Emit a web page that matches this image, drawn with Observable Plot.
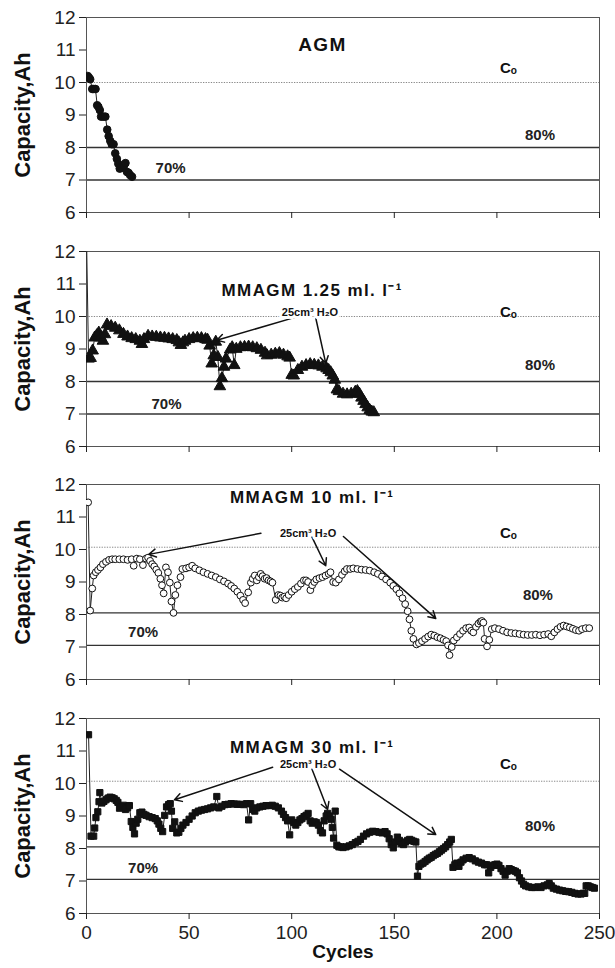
<!DOCTYPE html>
<html><head><meta charset="utf-8">
<script src="https://cdn.jsdelivr.net/npm/d3@7"></script>
<script src="https://cdn.jsdelivr.net/npm/@observablehq/plot@0.6"></script>
<style>
body{margin:0;background:#fff;font-family:"Liberation Sans",Arial,sans-serif;}
#chart{width:615px;}
#chart svg{display:block;overflow:visible;}
</style></head><body><div id="chart"></div>
<script>
// ---- data: [cycle, capacity Ah] ----
const agm = [[0.6,10.2],[1.2,10.15],[1.8,10.1],[2.8,9.8],[3.6,9.8],[4.4,9.8],[5.2,9.3],[5.8,9.25],[6.5,9.15],[7.1,8.95],[8.2,8.95],[9.2,8.95],[10.1,8.55],[10.8,8.35],[11.6,8.2],[12.3,8.1],[13.2,8.1],[14.0,7.82],[14.8,7.65],[15.5,7.5],[16.2,7.35],[16.9,7.4],[17.6,7.38],[18.3,7.45],[19.0,7.52],[19.7,7.25],[20.5,7.22],[21.3,7.15],[22.2,7.1]];

const mm125 = [[0,12.5],[1,8.7],[2,8.72],[3,8.95],[4,9.35],[5,9.42],[6,9.5],[7,9.35],[8,9.25],[9,9.45],[10,9.75],[12,9.7],[14,9.65],[16,9.57],[18,9.46],[20,9.38],[22,9.33],[24,9.3],[26,9.25],[27,9.15],[28,9.3],[30,9.4],[32,9.38],[34,9.37],[36,9.35],[38,9.34],[40,9.32],[42,9.3],[44,9.27],[45,9.2],[46,9.12],[47,9.2],[48,9.25],[50,9.3],[52,9.33],[54,9.34],[56,9.33],[58,9.3],[59,9.28],[60,9.1],[61,8.55],[62,8.8],[63,9.22],[64,8.75],[65,7.85],[66,8.1],[67,8.45],[68,8.7],[70,8.98],[71,9.05],[72,8.5],[73,9.0],[75,9.05],[77,9.06],[79,9.07],[81,9.05],[83,9.02],[85,8.97],[87,8.88],[88,8.8],[90,8.82],[92,8.85],[94,8.87],[96,8.82],[98,8.77],[99,8.73],[100,8.2],[101,8.18],[103,8.35],[105,8.45],[107,8.5],[109,8.53],[111,8.51],[113,8.49],[115,8.45],[117,8.4],[118,8.35],[119,8.28],[120,8.18],[121,8.05],[122,7.75],[123,7.7],[125,7.62],[127,7.6],[129,7.62],[131,7.68],[132,7.7],[133,7.62],[134,7.5],[135,7.4],[136,7.3],[137,7.2],[138,7.12],[139,7.07],[140,7.05]];

const mm10 = [[0.8,11.45],[1.8,8.12],[2.8,8.8],[3.5,9.2],[4.5,9.3],[5.6,9.37],[6.8,9.45],[8,9.55],[9.5,9.62],[11,9.68],[12.5,9.7],[14,9.7],[16,9.7],[18,9.7],[20,9.68],[22,9.7],[23,9.5],[24.5,9.72],[26,9.7],[27.5,9.52],[29,9.72],[30,9.75],[31,9.65],[32,9.55],[33,9.48],[34,9.38],[35,9.28],[36,9.1],[36.8,8.9],[37.6,8.65],[38.7,9.45],[39.7,9.3],[40.6,8.98],[41.4,8.4],[42.4,8.05],[43.3,8.6],[44.3,8.9],[45.8,9.15],[46.7,9.4],[48.5,9.42],[50,9.45],[51.5,9.5],[53,9.42],[55,9.36],[57,9.3],[59,9.25],[61,9.2],[63,9.15],[65,9.08],[67,9.02],[69,8.95],[70.5,8.88],[72,8.8],[73.5,8.7],[75,8.58],[76.3,8.45],[77.3,8.35],[78.8,8.68],[80.1,8.98],[81,9.1],[82,9.2],[83,9.05],[84,9.15],[84.9,9.25],[85.8,9.18],[86.8,9.1],[87.8,9.12],[88.7,9.05],[89.7,9.02],[90.6,8.98],[92.2,8.45],[93.5,8.6],[94.5,8.58],[95.4,8.52],[96.4,8.55],[97.3,8.5],[98.5,8.6],[100,8.7],[101.5,8.78],[103,8.85],[104.5,8.95],[105.9,9.05],[107,9.05],[108,9.0],[109.1,8.75],[110,8.9],[111,9.0],[112,9.08],[113.5,9.12],[115,9.15],[116.5,9.2],[118,9.25],[118.9,9.3],[120.2,9.0],[121.5,8.98],[123,9.08],[124.5,9.22],[125.8,9.33],[126.9,9.4],[128.5,9.4],[130,9.42],[132,9.4],[134,9.38],[136,9.37],[138,9.35],[140.2,9.3],[142,9.25],[144,9.17],[146,9.08],[148,8.98],[149.5,8.88],[151,8.78],[152.5,8.65],[154,8.5],[155.3,8.32],[156.5,8.1],[157.4,7.85],[158.3,7.5],[159.3,7.25],[160.8,7.08],[162,7.12],[163.5,7.18],[165,7.25],[166.5,7.32],[168,7.38],[169.5,7.35],[171,7.3],[172.5,7.27],[174,7.22],[175.3,7.18],[176.2,7.05],[176.9,6.75],[178,7.0],[179,7.2],[180.5,7.3],[182,7.4],[183.5,7.5],[185,7.58],[186.5,7.6],[187.5,7.5],[188.5,7.45],[189.8,7.62],[191,7.72],[192,7.78],[192.7,7.8],[193.4,7.75],[194,7.25],[195.2,7.02],[196.3,7.22],[197.5,7.55],[199,7.58],[201,7.55],[203,7.5],[205,7.45],[207,7.43],[209,7.42],[211,7.4],[213,7.38],[215,7.37],[217,7.37],[219,7.38],[221,7.36],[223,7.38],[225,7.4],[226.5,7.33],[228,7.45],[229.5,7.55],[231,7.62],[232.5,7.66],[234,7.63],[235.5,7.6],[237,7.56],[238.5,7.52],[240,7.5],[241.5,7.55],[243.3,7.58],[245,7.58]];

const mm30 = [[1,11.5],[2.2,8.38],[3.5,8.38],[4,8.63],[4.6,8.95],[5.5,9.13],[6.1,9.44],[6.5,9.72],[7.5,9.4],[8.5,9.45],[9.5,9.5],[10.5,9.55],[11.5,9.58],[12.5,9.56],[13.5,9.53],[14.5,9.48],[15.3,9.42],[16.1,9.24],[17,9.28],[18,9.33],[19,9.2],[20,9.25],[20.9,9.32],[21.8,8.83],[22.6,8.65],[23.4,8.45],[24.2,8.78],[25,8.9],[26,9.1],[27,9.12],[28,9.05],[29,9.02],[30.5,8.98],[32,8.95],[33.5,8.92],[34.5,8.85],[35.3,8.75],[36.2,8.62],[37.1,8.52],[38.1,9.02],[39,9.28],[40,9.35],[40.8,9.38],[41.4,9.15],[42,8.62],[43,8.82],[44,8.48],[45,8.5],[46,8.62],[47,8.72],[48.5,8.8],[50,8.9],[51.5,9.0],[53,9.1],[54.5,9.15],[56,9.18],[57.5,9.2],[59,9.22],[60.5,9.25],[62,9.28],[63.5,9.6],[64.5,9.25],[66,9.3],[67.5,9.35],[69,9.36],[70.5,9.38],[72,9.37],[73.5,9.36],[75,9.36],[76.5,9.35],[78,9.38],[79,8.88],[80,9.38],[81,9.2],[82,9.15],[83,9.25],[84.5,9.28],[86,9.3],[87.5,9.32],[89,9.32],[90.5,9.33],[92,9.3],[93.5,9.25],[95,9.15],[96,9.05],[97,8.95],[98,8.85],[99,8.42],[100,8.88],[101,8.8],[102,8.72],[103,8.8],[104,8.88],[105,8.92],[106,8.98],[107,9.02],[108,9.08],[109,8.85],[110,8.78],[111,8.82],[112,8.8],[113,8.72],[114,8.55],[115,8.48],[115.8,8.85],[116.8,9.0],[117.5,9.08],[118.5,9.0],[119.2,8.9],[119.8,8.65],[120.4,8.32],[121.2,9.15],[122,8.1],[123,8.05],[124,8.05],[125,8.03],[126.5,8.05],[128,8.08],[129.5,8.12],[131,8.18],[132.3,8.22],[133.5,8.28],[135,8.38],[136.5,8.45],[138,8.5],[139.5,8.53],[141,8.52],[142.5,8.5],[144,8.48],[145.5,8.52],[146.5,8.45],[147.5,8.3],[148.5,8.12],[149.5,8.02],[150.5,8.2],[151.5,8.35],[152.5,8.25],[153.5,8.15],[154.5,8.12],[155.5,8.2],[156.5,8.25],[157.5,8.28],[158.5,8.25],[159.5,8.22],[160.5,8.2],[161.3,7.15],[162,7.45],[163,7.52],[164,7.55],[165,7.6],[166,7.65],[167,7.7],[168,7.73],[169,7.78],[170,7.82],[171,7.85],[172,7.9],[173,7.95],[174,8.0],[175,8.05],[176,8.12],[177,8.2],[177.8,8.28],[178.6,7.42],[179.5,7.5],[180.5,7.55],[181.5,7.45],[182.5,7.58],[183.5,7.65],[185,7.7],[186.5,7.72],[188,7.68],[189.5,7.62],[191,7.58],[192.5,7.55],[194,7.5],[195,7.5],[196,7.25],[197,7.42],[198,7.48],[199,7.5],[200,7.52],[201,7.48],[202,7.38],[203,7.3],[204,7.18],[205,7.3],[206,7.38],[207,7.35],[208,7.32],[209,7.3],[210,7.25],[211,7.1],[212,7.0],[213,6.9],[214,6.85],[215.5,6.82],[217,6.8],[218.5,6.8],[220,6.82],[221.5,6.8],[223,6.85],[224.5,6.88],[225.5,6.92],[226.5,6.85],[227.5,6.78],[229,6.75],[230.5,6.72],[232,6.7],[233.5,6.68],[235,6.67],[236.5,6.65],[238,6.62],[239.5,6.6],[241,6.6],[242,6.62],[242.8,6.62],[243.5,6.85],[244.5,6.85],[245.5,6.82],[246.5,6.8],[247.5,6.78]];

// ---- labels / reference lines ----
const panelTitles = ["AGM", "MMAGM 1.25 ml. l\u207B\u00B9", "MMAGM 10 ml. l\u207B\u00B9", "MMAGM 30 ml. l\u207B\u00B9"];
const titleX = [115, 110, 110, 110];
const titleY = [11.15, 10.8, 11.6, 11.1];
const coLevel = [10, 10, 10.07, 10.07];
const level80 = [8, 8, 8.05, 8.05];
const level70 = [7, 7, 7.05, 7.05];
const coLabelX = [205.6, 205.6, 205.6, 205.6];
const coLabelY = [10.45, 10.13, 10.5, 10.6];
const p80X = [221, 221, 220, 221];
const p80Y = [8.38, 8.5, 8.6, 8.68];
const p70X = [41, 39, 27.6, 27.6];
const p70Y = [7.36, 7.3, 7.46, 7.38];
const waterLabel = [null, {x: 108.9, y: 10.13}, {x: 108, y: 10.5}, {x: 108, y: 10.6}];
const waterArrows = [
  [],
  [{x1: 102, y1: 9.98, x2: 63.5, y2: 9.27}, {x1: 111.8, y1: 9.93, x2: 116.6, y2: 8.56}],
  [{x1: 85, y1: 10.5, x2: 30.4, y2: 9.85}, {x1: 109.9, y1: 10.38, x2: 116.6, y2: 9.5}, {x1: 125.2, y1: 10.4, x2: 170.2, y2: 7.88}],
  [{x1: 90.7, y1: 10.5, x2: 42.9, y2: 9.5}, {x1: 109.9, y1: 10.44, x2: 117.5, y2: 9.2}, {x1: 123.3, y1: 10.44, x2: 170.2, y2: 8.43}]
];
const series = [agm, mm125, mm10, mm30];
const symbols = ["circle", "triangle", "circle", "square"];
const dotFill = ["#111", "#111", "#fff", "#111"];
const dotR = [3.8, 4.3, 3.4, 3.5];
const xTicks = [0, 50, 100, 150, 200, 250];
const yTicks = [6, 7, 8, 9, 10, 11, 12];

const FONT = "'Liberation Sans', Arial, sans-serif";

function panel(i) {
  const last = i === 3;
  const data = series[i];
  const marks = [
    Plot.ruleY([coLevel[i]], {stroke: "#888", strokeWidth: 1, strokeDasharray: "1.3,1.3"}),
    Plot.ruleY([level80[i], level70[i]], {stroke: "#333", strokeWidth: 1.3}),
    Plot.frame({stroke: "#555", strokeWidth: 1}),
    Plot.axisY({ticks: yTicks, tickFormat: d => String(d), tickSize: 7, tickPadding: 4, label: null, fontSize: 19, fontFamily: FONT}),
    Plot.axisX({ticks: xTicks, tickSize: 6, tickPadding: 6, label: null, fontSize: 19, fontFamily: FONT,
      tickFormat: last ? (d => String(d)) : (() => "")}),
    Plot.text(["Capacity,Ah"], {frameAnchor: "left", textAnchor: "middle", dx: -64, rotate: -90, fontWeight: "bold", fontSize: 22, fontFamily: FONT, fill: "#111"}),
    Plot.line(data, {x: d => d[0], y: d => d[1], stroke: "#222", strokeWidth: 1, clip: true}),
    Plot.dot(data, {x: d => d[0], y: d => d[1], symbol: () => symbols[i], r: dotR[i], fill: dotFill[i], stroke: "#111", strokeWidth: 1, clip: true}),
    Plot.text([panelTitles[i]], {x: titleX[i], y: titleY[i], fontWeight: "bold", fontSize: i === 0 ? 19 : 17, fontFamily: FONT, fill: "#111"}),
    Plot.text(["C\u2092"], {x: coLabelX[i], y: coLabelY[i], fontWeight: "bold", fontSize: 15, fontFamily: FONT, fill: "#111"}),
    Plot.text(["80%"], {x: p80X[i], y: p80Y[i], fontWeight: "bold", fontSize: 15, fontFamily: FONT, fill: "#222"}),
    Plot.text(["70%"], {x: p70X[i], y: p70Y[i], fontWeight: "bold", fontSize: 15, fontFamily: FONT, fill: "#222"}),
    Plot.arrow(waterArrows[i], {x1: "x1", y1: "y1", x2: "x2", y2: "y2", stroke: "#111", strokeWidth: 1.5, headLength: 8})
  ];
  if (waterLabel[i]) {
    marks.push(Plot.text([waterLabel[i]], {x: "x", y: "y", text: () => "25cm\u00B3 H\u2082O", fontWeight: "bold", fontSize: 11, fontFamily: FONT, fill: "#111", stroke: "#fff", strokeWidth: 6}));
  }
  if (last) {
    marks.push(Plot.text(["Cycles"], {frameAnchor: "bottom", dy: 44, fontWeight: "bold", fontSize: 19, fontFamily: FONT, fill: "#111"}));
  }
  const svg = Plot.plot({
    width: 615,
    height: last ? 268 : 233.5,
    marginLeft: 86, marginRight: 16, marginTop: 17, marginBottom: last ? 56 : 21.5,
    x: {domain: [0, 250]},
    y: {domain: [6, 12]},
    style: {fontFamily: FONT, fontSize: "17px", color: "#222", background: "white", overflow: "visible"},
    marks
  });
  d3.select(svg).selectAll("text").filter(function () { return this.textContent.startsWith("MMAGM") || this.textContent === "AGM"; })
    .style("letter-spacing", "1.4px");
  return svg;
}

const root = document.getElementById("chart");
for (let i = 0; i < 4; i++) root.appendChild(panel(i));
</script>
</body></html>
